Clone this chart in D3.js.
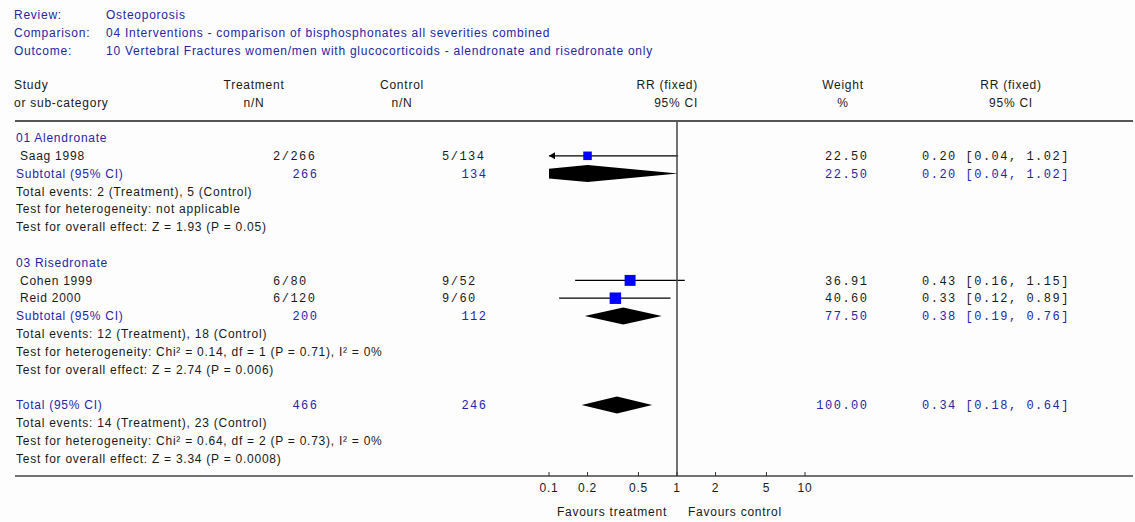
<!DOCTYPE html>
<html>
<head>
<meta charset="utf-8">
<script src="https://cdn.jsdelivr.net/npm/d3@7"></script>
<style>
    body { margin: 0; background: #fdfdfd; }
    text { font-family: 'Liberation Sans', Arial, sans-serif; font-size: 12px; letter-spacing: 0.75px; }
    .mono { font-family: 'Liberation Mono', 'Courier New', monospace; font-size: 12px; letter-spacing: 1.5px; }
    .blue { fill: #2626a6; }
    .dark { fill: #1a1a1a; }
</style>
</head>
<body>
<div id="svgDiv"></div>
<script>

// review header
const headerLabels = ['Review:', 'Comparison:', 'Outcome:']
const headerValues = ['Osteoporosis',
    '04 Interventions - comparison of bisphosphonates all severities combined',
    '10 Vertebral Fractures women/men with glucocorticoids - alendronate and risedronate only']

// subgroups
const groups = ['01 Alendronate', '03 Risedronate']

// individual studies
const studyNames = ['Saag 1998', 'Cohen 1999', 'Reid 2000']
const studyGroup = [0, 1, 1]
const treatEvents = [2, 6, 6]
const treatTotal = [266, 80, 120]
const ctrlEvents = [5, 9, 9]
const ctrlTotal = [134, 52, 60]
const studyWeight = [22.50, 36.91, 40.60]
const studyRR = [0.20, 0.43, 0.33]
const studyLo = [0.04, 0.16, 0.12]
const studyHi = [1.02, 1.15, 0.89]

// subtotals per group
const subTreat = [266, 200]
const subCtrl = [134, 112]
const subWeight = [22.50, 77.50]
const subRR = [0.20, 0.38]
const subLo = [0.04, 0.19]
const subHi = [1.02, 0.76]
const subNotes = [
    ['Total events: 2 (Treatment), 5 (Control)',
     'Test for heterogeneity: not applicable',
     'Test for overall effect: Z = 1.93 (P = 0.05)'],
    ['Total events: 12 (Treatment), 18 (Control)',
     'Test for heterogeneity: Chi² = 0.14, df = 1 (P = 0.71), I² = 0%',
     'Test for overall effect: Z = 2.74 (P = 0.006)']
]

// overall total
const totalTreat = 466
const totalCtrl = 246
const totalWeight = 100.00
const totalRR = 0.34
const totalLo = 0.18
const totalHi = 0.64
const totalNotes = ['Total events: 14 (Treatment), 23 (Control)',
    'Test for heterogeneity: Chi² = 0.64, df = 2 (P = 0.73), I² = 0%',
    'Test for overall effect: Z = 3.34 (P = 0.0008)']

// axis
const tickValues = [0.1, 0.2, 0.5, 1, 2, 5, 10]

var width = 1135,
    height = 522;

var svg = d3.select('#svgDiv')
    .append('svg')
        .attr('width', width)
        .attr('height', height);

// build row list
var rows = []
groups.forEach(function(g, gi){
    rows.push({type: 'group', label: g})
    studyNames.forEach(function(s, i){
        if(studyGroup[i] == gi){
            rows.push({type: 'study', label: s, treat: treatEvents[i] + '/' + treatTotal[i],
                ctrl: ctrlEvents[i] + '/' + ctrlTotal[i], w: studyWeight[i],
                rr: studyRR[i], lo: studyLo[i], hi: studyHi[i]})
        }
    })
    rows.push({type: 'sub', label: 'Subtotal (95% CI)', treat: subTreat[gi], ctrl: subCtrl[gi],
        w: subWeight[gi], rr: subRR[gi], lo: subLo[gi], hi: subHi[gi]})
    subNotes[gi].forEach(n => rows.push({type: 'note', label: n}))
    rows.push({type: 'blank'})
})
rows.push({type: 'sub', label: 'Total (95% CI)', treat: totalTreat, ctrl: totalCtrl,
    w: totalWeight, rr: totalRR, lo: totalLo, hi: totalHi})
totalNotes.forEach(n => rows.push({type: 'note', label: n}))
rows.forEach((r, i) => r.i = i)

// scales
var x = d3.scaleLog()
    .domain([0.1, 10])
    .range([549, 805]);

var y = d3.scaleLinear()
    .domain([0, rows.length - 1])
    .range([138, 458.4]);

var box = d3.scaleSqrt()
    .domain([0, 100])
    .range([0, 18]);

var fmt2 = d3.format('.2f')
function ciText(d){
    return fmt2(d.rr) + ' [' + fmt2(d.lo) + ', ' + fmt2(d.hi) + ']'
}

// top header
{
var hdr = svg.append('g')
hdr.selectAll('.hlab')
    .data(headerLabels)
    .join('text')
    .attr('class', 'blue')
    .attr('x', 14)
    .attr('y', (d, i) => 15 + i * 17.7)
    .attr('dy', '0.35em')
    .text(d => d)
hdr.selectAll('.hval')
    .data(headerValues)
    .join('text')
    .attr('class', 'blue')
    .attr('x', 106)
    .attr('y', (d, i) => 15 + i * 17.7)
    .attr('dy', '0.35em')
    .text(d => d)

// column titles
var cols = [
    {x: 14, a: 'start', t: ['Study', 'or sub-category']},
    {x: 254, a: 'middle', t: ['Treatment', 'n/N']},
    {x: 402, a: 'middle', t: ['Control', 'n/N']},
    {x: 698, a: 'end', t: ['RR (fixed)', '95% CI']},
    {x: 843, a: 'middle', t: ['Weight', '%']},
    {x: 1011, a: 'middle', t: ['RR (fixed)', '95% CI']}
]
cols.forEach(function(c){
    c.t.forEach(function(t, k){
        hdr.append('text')
            .attr('class', 'dark')
            .attr('x', c.x)
            .attr('y', 85 + k * 18)
            .attr('dy', '0.35em')
            .attr('text-anchor', c.a)
            .text(t)
    })
})

svg.append('line')
    .attr('x1', 15).attr('x2', 1133)
    .attr('y1', 121).attr('y2', 121)
    .style('stroke', '#555')
    .style('stroke-width', 2)

svg.append('line')
    .attr('x1', 15).attr('x2', 1133)
    .attr('y1', 476).attr('y2', 476)
    .style('stroke', '#444')
    .style('stroke-width', 1.5)
}

// row texts
var body = svg.append('g')

body.selectAll('.rowLabel')
    .data(rows.filter(d => d.type != 'blank'))
    .join('text')
    .attr('class', d => (d.type == 'group' || d.type == 'sub') ? 'blue' : 'dark')
    .attr('x', d => d.type == 'study' ? 20 : 16)
    .attr('y', d => y(d.i))
    .attr('dy', '0.35em')
    .text(d => d.label)

var numRows = rows.filter(d => d.type == 'study' || d.type == 'sub')

// treatment / control / weight / CI columns
numRows.forEach(function(d){
    var cls = 'mono ' + (d.type == 'sub' ? 'blue' : 'dark'),
        isSub = d.type == 'sub';
    body.append('text')
        .attr('class', cls)
        .attr('x', isSub ? 318.5 : 273)
        .attr('text-anchor', isSub ? 'end' : 'start')
        .attr('y', y(d.i))
        .attr('dy', '0.35em')
        .text(d.treat)
    body.append('text')
        .attr('class', cls)
        .attr('x', isSub ? 487.5 : 442)
        .attr('text-anchor', isSub ? 'end' : 'start')
        .attr('y', y(d.i))
        .attr('dy', '0.35em')
        .text(d.ctrl)
    body.append('text')
        .attr('class', cls)
        .attr('x', 868.5)
        .attr('text-anchor', 'end')
        .attr('y', y(d.i))
        .attr('dy', '0.35em')
        .text(fmt2(d.w))
    body.append('text')
        .attr('class', cls)
        .attr('x', 922)
        .attr('y', y(d.i))
        .attr('dy', '0.35em')
        .text(ciText(d))
})

// forest plot
{
svg.append('clipPath')
    .attr('id', 'plotClip')
    .append('rect')
    .attr('x', x(0.1)).attr('y', 121)
    .attr('width', x(10) - x(0.1)).attr('height', 355);

var plot = svg.append('g')
    .attr('clip-path', 'url(#plotClip)')

// line of no effect
svg.append('line')
    .attr('x1', x(1)).attr('x2', x(1))
    .attr('y1', 122).attr('y2', 476)
    .style('stroke', '#444')
    .style('stroke-width', 1.5)

var studyRows = rows.filter(d => d.type == 'study')

plot.selectAll('.ci')
    .data(studyRows)
    .join('line')
    .attr('x1', d => x(d.lo))
    .attr('x2', d => x(d.hi))
    .attr('y1', d => y(d.i))
    .attr('y2', d => y(d.i))
    .style('stroke', '#000')
    .style('stroke-width', 1.2)

// arrows where CI runs off the scale
svg.selectAll('.arrow')
    .data(studyRows.filter(d => d.lo < 0.1))
    .join('path')
    .attr('d', d => {
        var x0 = x(0.1), y0 = y(d.i);
        return 'M' + x0 + ',' + y0 + 'L' + (x0 + 6) + ',' + (y0 - 3.5) + 'L' + (x0 + 6) + ',' + (y0 + 3.5) + 'Z'
    })
    .style('fill', '#000')

plot.selectAll('.points')
    .data(studyRows)
    .join('rect')
    .attr('x', d => x(d.rr) - box(d.w) / 2)
    .attr('y', d => y(d.i) - box(d.w) / 2)
    .attr('width', d => box(d.w))
    .attr('height', d => box(d.w))
    .style('fill', '#0000ff')

var hh = 8.5
plot.selectAll('.diamond')
    .data(rows.filter(d => d.type == 'sub'))
    .join('path')
    .attr('d', d => {
        var yc = y(d.i);
        return 'M' + x(d.lo) + ',' + yc +
            'L' + x(d.rr) + ',' + (yc - hh) +
            'L' + x(d.hi) + ',' + yc +
            'L' + x(d.rr) + ',' + (yc + hh) + 'Z'
    })
    .style('fill', '#000')

// x axis
var ax = svg.append('g')
ax.selectAll('.tick')
    .data(tickValues)
    .join('line')
    .attr('x1', d => x(d)).attr('x2', d => x(d))
    .attr('y1', 472).attr('y2', 476)
    .style('stroke', '#333')
ax.selectAll('.tickLabel')
    .data(tickValues)
    .join('text')
    .attr('class', 'dark')
    .attr('x', d => x(d))
    .attr('y', 488)
    .attr('dy', '0.35em')
    .attr('text-anchor', 'middle')
    .text(d => d)

ax.append('text')
    .attr('class', 'dark')
    .attr('x', 667)
    .attr('y', 512)
    .attr('dy', '0.35em')
    .attr('text-anchor', 'end')
    .text('Favours treatment')
ax.append('text')
    .attr('class', 'dark')
    .attr('x', 688)
    .attr('y', 512)
    .attr('dy', '0.35em')
    .text('Favours control')
}
</script>
</body>
</html>
